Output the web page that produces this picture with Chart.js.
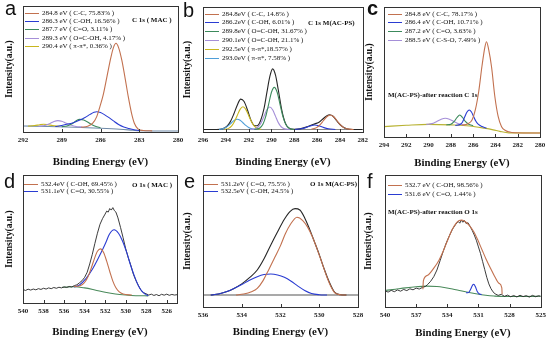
<!DOCTYPE html>
<html>
<head>
<meta charset="utf-8">
<script src="https://cdn.jsdelivr.net/npm/chart.js@4.4.1/dist/chart.umd.min.js"></script>
<style>
  body { margin: 0; background: #fff; }
  #fig { position: relative; width: 550px; height: 340px; overflow: hidden; background: #fff; }
  #fig canvas { position: absolute; }
  .lbl { position: absolute; white-space: nowrap; line-height: 1; color: #111; }
  .letter { font-family: 'Liberation Sans', Arial, sans-serif; font-size: 20px; line-height: 20px; }
  .note { font-family: 'Liberation Serif', serif; font-weight: bold; font-size: 7px; height: 8px; line-height: 8px; }
  .leg { font-family: 'Liberation Serif', serif; font-size: 7px; height: 8px; display: flex; align-items: center; }
  .leg i { display: inline-block; width: 14px; border-top: 1.2px solid; margin-right: 3px; }
</style>
</head>
<body>
<div id="fig"></div>
<script>
// ---- data: binding energy (eV) / intensity (a.u., 0-100 of frame height) ----
const aTicks = [292, 289, 286, 283, 280]
const aBase = [[292,4.8],[290,4.4],[288,3.8],[286,3],[284.5,2.2],[283.5,1.4],[283,1],[280,0.8]]
const aCC = [[287.5,3.8],[287,4.5],[286.6,7],[286.3,12],[286.05,20],[285.8,29],[285.5,44],[285.2,59],[285,67],[284.8,70.4],[284.6,67],[284.35,57],[284.1,43],[283.85,28],[283.6,15],[283.38,7],[283.1,2.5],[282.7,1.2],[282,0.9]]
const aCOH = [[289.5,4.3],[289,5.2],[288.5,6.3],[288,7.8],[287.6,9.5],[287.2,11.5],[286.8,14],[286.5,15.6],[286.3,16.1],[286,15.5],[285.7,13.8],[285.4,11.8],[285,8.8],[284.6,6],[284.2,4],[283.8,2.8],[283.4,1.8],[283,1.2]]
const aCO = [[289,4.3],[288.6,4.8],[288.2,6.5],[287.9,8.8],[287.6,10],[287.3,9.5],[287,8],[286.7,6],[286.4,4.5],[286,3.4]]
const aOCOH = [[290.8,4.5],[290.3,5.2],[289.9,6.8],[289.6,8.3],[289.3,9],[289,8.5],[288.7,7.2],[288.3,5.6],[287.9,4.4],[287.4,3.9]]
const aPi = [[291.6,4.7],[291.1,5.1],[290.7,5.8],[290.4,6.1],[290.1,5.8],[289.7,5.1],[289.2,4.5]]

const bTicks = [296, 294, 292, 290, 288, 286, 284, 282]
const bBase = [[296,2],[282,2]]
const bEnv = [[296,2],[294.8,2],[294.3,2.5],[293.9,4.6],[293.6,8.3],[293.3,14.4],[293,21.4],[292.7,26.3],[292.4,24.4],[292.1,17.6],[291.8,9.5],[291.5,5.2],[291.25,5],[290.95,9.2],[290.65,18.9],[290.4,31.7],[290.15,44.1],[289.9,50.5],[289.65,45.7],[289.4,33.6],[289.1,17.7],[288.8,7.5],[288.5,3.3],[288,2.2],[287.5,2.5],[286.8,4.4],[286.2,6.5],[285.8,8],[285.5,10.4],[285.2,12.6],[284.9,13.8],[284.6,12.6],[284.3,9.2],[284,6],[283.7,3.8],[283.4,2.6],[282.9,2],[282,2]]
const bCC = [[286.5,2.2],[286.05,3.5],[285.75,5.7],[285.45,9],[285.15,12.2],[284.85,13.6],[284.55,12.2],[284.25,9],[283.95,5.7],[283.65,3.5],[283.35,2.5],[282.8,2]]
const bCOH = [[288,2],[287.4,2.6],[287,3.5],[286.6,4.8],[286.2,5.6],[285.8,4.8],[285.4,3.5],[285,2.6],[284.4,2]]
const bOCOH1 = [[291.5,2],[291.05,3],[290.75,6.2],[290.5,12.5],[290.25,22.1],[290,31.8],[289.75,35.7],[289.5,31.8],[289.25,22.1],[289,12.5],[288.75,6.2],[288.45,3],[288,2]]
const bOCOH2 = [[291.9,2],[291.45,2.5],[291.15,4.2],[290.9,7.5],[290.65,12.7],[290.4,17.8],[290.15,20],[289.9,17.8],[289.65,12.7],[289.4,7.5],[289.15,4.2],[288.85,2.5],[288.4,2]]
const bPi1 = [[294.1,2.1],[293.8,2.7],[293.5,4.7],[293.25,8.2],[293,13.2],[292.75,18.1],[292.5,20.2],[292.25,18.1],[292,13.2],[291.75,8.2],[291.5,4.7],[291.2,2.7],[290.9,2.1]]
const bPi2 = [[294.6,2.1],[294.3,2.5],[294,3.6],[293.75,5.3],[293.5,7.4],[293.25,9.4],[293,10.2],[292.75,9.4],[292.5,7.4],[292.25,5.3],[292,3.6],[291.7,2.5],[291.4,2.1]]

const cTicks = [294, 292, 290, 288, 286, 284, 282, 280]
const cBase = [[294,8],[292,9],[290,9.7],[288,9.3],[286.3,8.5],[285,6.8],[284.2,5.5],[283.6,4.3],[282.8,3.2],[280,3.1]]
const cCC = [[287,9.2],[286.5,10],[286.1,13],[285.8,21],[285.5,35],[285.2,55],[284.95,69],[284.8,73.3],[284.6,67],[284.35,54],[284.05,31],[283.75,15.6],[283.45,7.9],[283.1,5],[282.8,4],[282.3,3.3],[280,3.1]]
const cCOH = [[287.6,8.9],[287.15,9.8],[286.95,11.6],[286.75,15.6],[286.55,19.2],[286.35,20.8],[286.15,19.2],[285.95,15.6],[285.75,12.1],[285.55,9.9],[285.2,8],[284.8,6.8]]
const cCO = [[288.4,9.3],[288,9.8],[287.7,12],[287.45,15],[287.2,16.9],[286.95,15],[286.7,12],[286.4,9.8],[286,8.7]]
const cCSO = [[290.2,9.7],[289.7,10.3],[289.3,11.8],[288.9,13.5],[288.5,14.4],[288.1,13.5],[287.7,11.8],[287.3,10.2],[286.8,9]]

const dTicks = [540, 538, 536, 534, 532, 530, 528, 526]
const dRaw = [[540,10.5],[539.75,9.8],[539.5,10.8],[539.25,10.1],[539,10.9],[538.75,10.3],[538.5,11.2],[538.25,10.6],[538,11.5],[537.75,10.9],[537.5,11.8],[537.25,11.2],[537,12.1],[536.75,11.5],[536.5,12.3],[536.25,11.8],[536,12.6],[535.75,12.1],[535.5,12.9],[535.25,12.5],[535,13.6],[534.75,14.2],[534.5,15.8],[534.25,17.4],[534,20],[533.75,24],[533.5,30.5],[533.25,38],[533,46.5],[532.75,54.5],[532.5,61.5],[532.25,66],[532,69.5],[531.85,71.8],[531.7,71],[531.55,73.8],[531.4,72.6],[531.25,74.5],[531.1,72.2],[530.95,71],[530.75,66.5],[530.5,59],[530.25,51],[530,42.5],[529.75,35.5],[529.5,29.5],[529.25,22.5],[529,17.5],[528.75,13.5],[528.5,9.8],[528.25,8],[528,7.2],[527.75,6.2],[527.5,6.9],[527.25,5.9],[527,6.6],[526.75,5.7],[526.5,6.8],[526.25,6.1],[526,6.9],[525.75,6],[525.5,6.7],[525.25,6.2],[525,6.5]]
const dBase = [[536.2,12.3],[535,12.7],[534,11.8],[533,10.2],[532,8.4],[531,7],[530,6.2],[529,5.7],[527.8,5.6]]
const dCOH = [[535,13],[534.65,13.1],[534.25,14.3],[533.95,16.6],[533.65,20.9],[533.35,27.3],[533.05,34.5],[532.75,40.4],[532.45,42.3],[532.15,39.5],[531.85,32.7],[531.55,24.6],[531.25,17.1],[530.95,11.9],[530.65,8.9],[530.25,7],[529.4,6.2]]
const dCO = [[535,12.3],[534.5,14.1],[533.85,19.2],[533.2,27],[532.56,36.7],[532.2,42.5],[531.92,47.4],[531.6,53.5],[531.12,57.2],[530.7,54.5],[530.32,48.7],[529.9,39.5],[529.52,29.5],[529.1,20],[528.72,12.8],[528.4,9],[528.08,6.9],[527.8,5.7]]

const eTicks = [536, 534, 532, 530, 528]
const eBase = [[536,9.1],[528,9.1]]
const eEnv = [[535.6,9.1],[535.2,9.8],[534.8,11.5],[534.4,14.1],[534,17.5],[533.6,22.2],[533.2,28],[532.85,36.5],[532.5,47],[532.15,57],[531.8,66.5],[531.5,72.5],[531.25,74.5],[531,73.5],[530.75,67.5],[530.5,59],[530.25,49.5],[530,39.7],[529.75,29],[529.5,19.5],[529.2,11],[528.9,9.3],[528.6,9.1]]
const eCO = [[534.3,9.1],[533.9,9.8],[533.5,11.5],[533.2,14.1],[532.9,20],[532.6,28.5],[532.3,37.5],[532,46.5],[531.75,55.5],[531.5,62.3],[531.15,68],[530.85,65.5],[530.6,60.5],[530.35,53],[530.1,43.5],[529.85,33],[529.6,22.5],[529.4,15.5],[529.2,10.8],[528.9,9.3],[528.6,9.1]]
const eCOH = [[535.6,9.1],[535.2,9.8],[534.8,11.5],[534.4,14],[534,17],[533.6,20.3],[533.2,23],[532.85,24.6],[532.5,25],[532.15,24.3],[531.8,22.5],[531.45,19.5],[531.1,15.8],[530.75,12.5],[530.4,10.2],[530,9.3],[529.6,9.1]]

const fTicks = [540, 537, 534, 531, 528, 525]
const fRaw = [[540,12.2],[539.7,11.3],[539.4,12.6],[539.1,11.6],[538.8,12.9],[538.5,12],[538.2,13.3],[537.9,12.4],[537.6,13.8],[537.3,13],[537,14.3],[536.7,13.6],[536.4,14.8],[536.1,15.6],[535.9,17],[535.6,19.5],[535.3,23],[535,28],[534.7,35],[534.4,42],[534.1,48.5],[533.8,54],[533.5,59],[533.2,62.5],[532.95,64.8],[532.8,63.5],[532.65,65.8],[532.5,64.2],[532.35,65.5],[532.2,63.3],[532,63.8],[531.8,61],[531.6,58],[531.4,54.5],[531.2,50.5],[531,45.5],[530.8,40.5],[530.6,34.5],[530.4,28.5],[530.2,22.5],[530,17.5],[529.8,14],[529.6,11.5],[529.4,10],[529.1,8.8],[528.8,9.6],[528.5,8.1],[528.2,9],[527.9,7.8],[527.6,8.7],[527.3,7.6],[527,8.9],[526.7,7.9],[526.4,8.6],[526.1,7.5],[525.8,8.8],[525.5,7.8],[525.2,8.5],[525,8.1]]
const fBase = [[540,12.5],[539,13.5],[538,14.5],[537,15.3],[536,15.8],[535,15.5],[534.3,14.8],[533.5,13.7],[532.7,12.3],[531.9,11],[531.1,9.8],[530.3,8.9],[529.5,8.3],[528.5,7.9],[527,7.9],[525,8.1]]
const fCOH = [[536.35,13.5],[536.3,20],[535.9,24],[535.3,29.5],[534.8,35.5],[534.35,43.2],[533.95,51],[533.55,58.3],[533.2,63],[532.9,65.4],[532.6,65.8],[532.26,64.6],[531.85,61.5],[531.45,57],[531.05,50.5],[530.65,43.2],[530.25,36],[529.84,29.3],[529.45,23.3],[529.03,18],[528.75,14.5],[528.72,9.8]]
const fCO = [[532.2,10.8],[531.95,11],[531.75,13.5],[531.55,16.8],[531.45,17.2],[531.3,15.5],[531.1,11.5],[530.9,9.8],[530.7,9.5]]

// ---- styles ----
const col = {
  brown: '#c2714f', blue: '#2a3cd2', green: '#3c8a5c', purple: '#a58fd8',
  yellow: '#c8b61e', sky: '#4f9ed8', black: '#262626', slate: '#6f8aa8',
  gray: '#8a8a8a', olive: '#b8b232', dgreen: '#4a8a5b', dgray: '#555'
}
const serif = "'Liberation Serif', 'Times New Roman', serif"

const pts = arr => arr.map(([x, y]) => ({x, y}))
const curve = (label, data, color, legend, raw) => ({
  label, data: pts(data), borderColor: color, borderWidth: raw ? 0.9 : 1.1,
  pointRadius: 0, fill: false, legend,
  cubicInterpolationMode: raw ? 'default' : 'monotone', tension: 0
})

const frame = {
  id: 'frame',
  afterDatasetsDraw(chart) {
    const {ctx, chartArea: a} = chart
    const x = chart.scales.x
    ctx.save()
    ctx.strokeStyle = '#333'
    ctx.lineWidth = 1
    ctx.strokeRect(Math.round(a.left) + 0.5, Math.round(a.top) + 0.5, Math.round(a.right - a.left), Math.round(a.bottom - a.top))
    ctx.beginPath()
    x.ticks.forEach(t => {
      const px = Math.round(x.getPixelForValue(t.value)) + 0.5
      ctx.moveTo(px, a.bottom)
      ctx.lineTo(px, a.bottom - 3)
    })
    ctx.stroke()
    ctx.restore()
  }
}

const panels = [
  { letter: 'a', lpos: [5, -2], box: [0, 0, 192, 170], area: [23, 178, 6, 132], range: [280, 292], ticks: aTicks,
    tickPad: 4, titlePad: 1.5, yPad: 4.2, legend: [25, 13.3, 8.33], note: ['C 1s ( MAC )', 132, 20],
    sets: [
      curve('284.8 eV ( C-C, 75.83% )', aCC, col.brown, true),
      curve('286.3 eV ( C-OH, 16.56% )', aCOH, col.blue, true),
      curve('287.7 eV ( C=O, 3.11% )', aCO, col.green, true),
      curve('289.3 eV ( O=C-OH, 4.17% )', aOCOH, col.purple, true),
      curve('290.4 eV ( \u03c0-\u03c0*, 0.36% )', aPi, col.yellow, true),
      curve('baseline', aBase, col.slate, false)
    ] },
  { letter: 'b', lpos: [183, 0], box: [180, 0, 192, 170], area: [203, 363, 7, 132], range: [282, 296], ticks: bTicks,
    tickPad: 4, titlePad: 1.5, yPad: 2.2, legend: [205, 14, 8.9], note: ['C 1s   M(AC-PS)', 308, 23],
    sets: [
      curve('284.8eV ( C-C, 14.8% )', bCC, col.brown, true),
      curve('286.2eV ( C-OH, 6.01% )', bCOH, col.blue, true),
      curve('289.8eV ( O=C-OH, 31.67% )', bOCOH1, col.green, true),
      curve('290.1eV ( O=C-OH, 21.1% )', bOCOH2, col.purple, true),
      curve('292.5eV ( \u03c0-\u03c0*,18.57% )', bPi1, col.yellow, true),
      curve('293.0eV ( \u03c0-\u03c0*, 7.58% )', bPi2, col.sky, true),
      curve('envelope', bEnv, col.black, false),
      curve('baseline', bBase, col.gray, false)
    ] },
  { letter: 'c', lpos: [367, -2], bold: true, box: [360, 0, 190, 170], area: [384, 540, 7, 137], range: [280, 294], ticks: cTicks,
    tickPad: 4, titlePad: 0.8, yPad: 4.2, legend: [388, 14, 8.9], note: ['M(AC-PS)-after reaction   C 1s', 388, 95],
    sets: [
      curve('284.8 eV ( C-C, 78.17% )', cCC, col.brown, true),
      curve('286.4 eV ( C-OH, 10.71% )', cCOH, col.blue, true),
      curve('287.2 eV ( C=O, 3.63% )', cCO, col.green, true),
      curve('288.5 eV ( C-S-O, 7.49% )', cCSO, col.purple, true),
      curve('baseline', cBase, col.olive, false)
    ] },
  { letter: 'd', lpos: [4, 171], box: [0, 170, 192, 170], area: [23, 177, 175, 303], range: [525, 540], ticks: dTicks,
    tickPad: 4, titlePad: 1.6, yPad: 3.5, legend: [24, 184, 7.7], note: ['O 1s ( MAC )', 132, 185],
    sets: [
      curve('532.4eV ( C-OH, 69.45% )', dCOH, col.brown, true),
      curve('531.1eV ( C=O, 30.55% )', dCO, col.blue, true),
      curve('raw', dRaw, col.black, false, true),
      curve('baseline', dBase, col.dgreen, false)
    ] },
  { letter: 'e', lpos: [184, 171], box: [180, 170, 192, 170], area: [203, 358, 175, 307], range: [528, 536], ticks: eTicks,
    tickPad: 4, titlePad: 1.6, yPad: 2.2, legend: [204, 184, 7.7], note: ['O 1s M(AC-PS)', 310, 184],
    sets: [
      curve('531.2eV ( C=O, 75.5% )', eCO, col.brown, true),
      curve('532.5eV ( C-OH, 24.5% )', eCOH, col.blue, true),
      curve('envelope', eEnv, col.black, false),
      curve('baseline', eBase, col.dgray, false)
    ] },
  { letter: 'f', lpos: [367, 171], box: [360, 170, 190, 170], area: [385, 541, 175, 307], range: [525, 540], ticks: fTicks,
    tickPad: 4, titlePad: 0.8, yPad: 3.2, legend: [388, 185.7, 8.3], note: ['M(AC-PS)-after reaction   O 1s', 388, 212],
    sets: [
      curve('532.7 eV ( C-OH, 98.56% )', fCOH, col.brown, true),
      curve('531.6 eV ( C=O, 1.44% )', fCO, col.blue, true),
      curve('raw', fRaw, col.black, false, true),
      curve('baseline', fBase, col.dgreen, false)
    ] }
]

const fig = document.getElementById('fig')

function addLabel(cls, text, x, y, extra) {
  const d = document.createElement('div')
  d.className = 'lbl ' + cls
  d.style.left = x + 'px'
  d.style.top = y + 'px'
  if (extra) Object.assign(d.style, extra)
  d.textContent = text
  fig.appendChild(d)
  return d
}

panels.forEach(p => {
  const [bl, bt, bw, bh] = p.box
  const [L, R, T, B] = p.area
  const cv = document.createElement('canvas')
  cv.width = bw
  cv.height = bh
  cv.style.left = bl + 'px'
  cv.style.top = bt + 'px'
  fig.appendChild(cv)

  new Chart(cv.getContext('2d'), {
    type: 'line',
    data: { datasets: p.sets },
    options: {
      responsive: false,
      animation: false,
      devicePixelRatio: 1,
      layout: { padding: { top: T - bt, right: bl + bw - R, left: 0, bottom: 0 } },
      plugins: { legend: { display: false }, tooltip: { enabled: false } },
      scales: {
        x: {
          type: 'linear', reverse: true, min: p.range[0], max: p.range[1],
          afterBuildTicks: s => { s.ticks = p.ticks.map(v => ({ value: v })) },
          afterFit: s => { s.height = bt + bh - B },
          grid: { display: false, drawTicks: false },
          border: { display: false },
          ticks: { padding: p.tickPad, color: '#222', maxRotation: 0, autoSkip: false,
                   font: { family: serif, weight: 'bold', size: 7 } },
          title: { display: true, text: 'Binding Energy (eV)', color: '#111',
                   font: { family: serif, weight: 'bold', size: 10.8 },
                   padding: { top: 0, bottom: p.titlePad } }
        },
        y: {
          min: 0, max: 100,
          afterFit: s => { s.width = L - bl },
          ticks: { display: false },
          grid: { display: false, drawTicks: false },
          border: { display: false },
          title: { display: true, text: 'Intensity(a.u.)', color: '#111',
                   font: { family: serif, weight: 'bold', size: 9.6 },
                   padding: { top: p.yPad, bottom: 0 } }
        }
      }
    },
    plugins: [frame]
  })

  addLabel('letter', p.letter, p.lpos[0], p.lpos[1], p.bold ? { fontWeight: 'bold' } : null)
  const [lx, ly, step] = p.legend
  p.sets.filter(s => s.legend).forEach((s, i) => {
    const d = addLabel('leg', '', lx, ly + i * step - 4)
    const sw = document.createElement('i')
    sw.style.borderTopColor = s.borderColor
    d.appendChild(sw)
    d.appendChild(document.createTextNode(s.label))
  })
  addLabel('note', p.note[0], p.note[1], p.note[2] - 4)
})
</script>
</body>
</html>
